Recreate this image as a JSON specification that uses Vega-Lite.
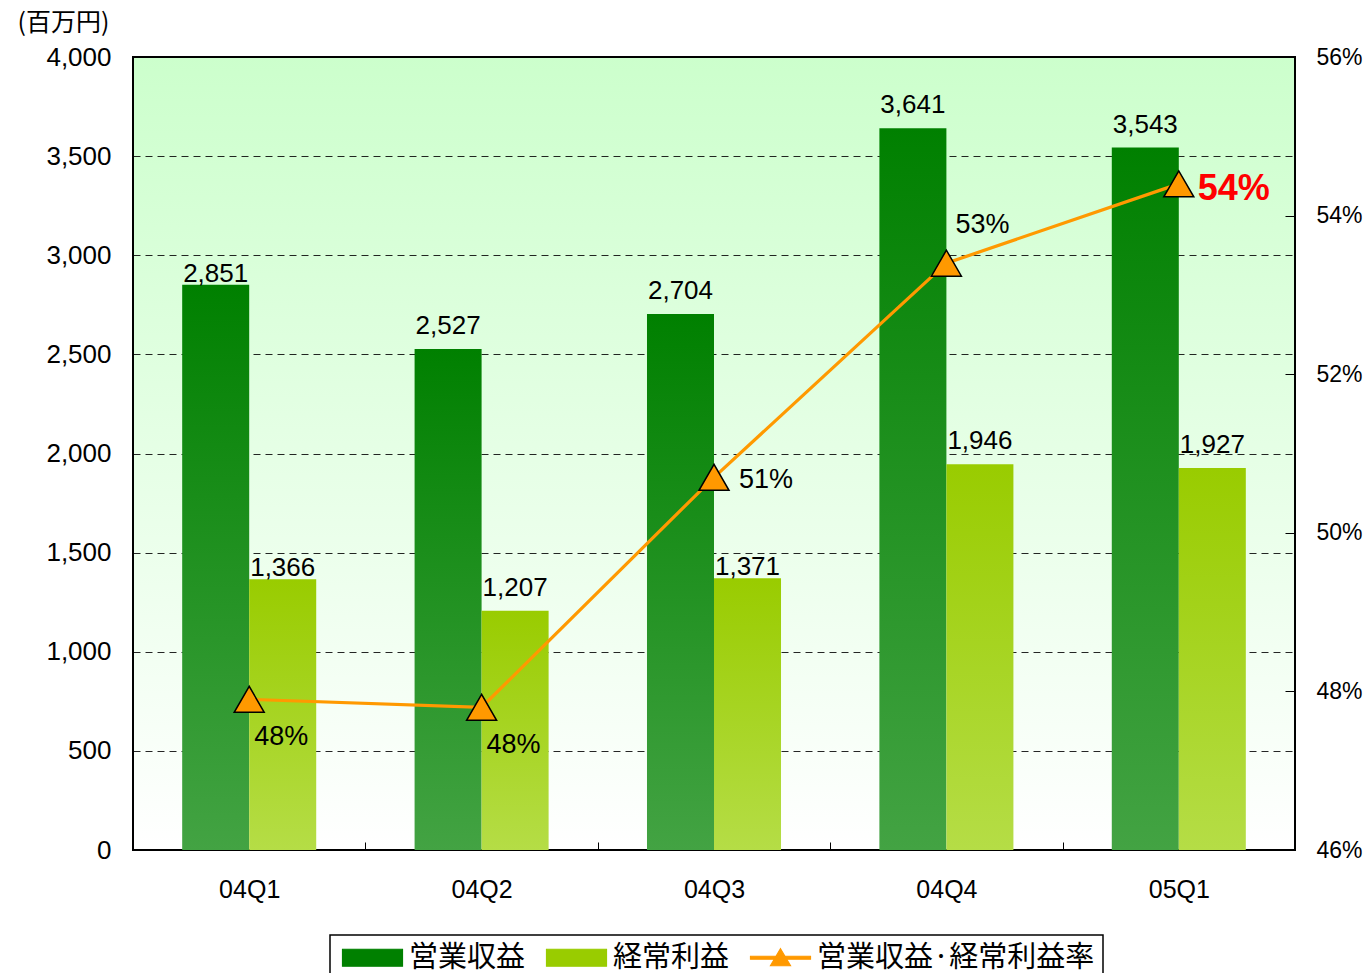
{
  "$schema": "https://vega.github.io/schema/vega-lite/v6.json",
  "width": 1162,
  "height": 793,
  "autosize": {"type": "none"},
  "padding": {"left": 133, "top": 57, "right": 73, "bottom": 123},
  "background": "white",
  "config": {
    "view": {
      "stroke": "black",
      "strokeWidth": 2,
      "fill": {"gradient": "linear", "x1": 0, "y1": 0, "x2": 0, "y2": 1,
        "stops": [{"offset": 0, "color": "#ccffcc"}, {"offset": 1, "color": "#ffffff"}]}
    },
    "font": "Liberation Sans",
    "axis": {"labelFont": "Liberation Sans", "labelFontSize": 26, "labelColor": "black", "domainColor": "black", "tickColor": "black"}
  },
  "datasets": {
    "bars": [
      {"q": "04Q1", "series": "営業収益", "value": 2851},
      {"q": "04Q1", "series": "経常利益", "value": 1366},
      {"q": "04Q2", "series": "営業収益", "value": 2527},
      {"q": "04Q2", "series": "経常利益", "value": 1207},
      {"q": "04Q3", "series": "営業収益", "value": 2704},
      {"q": "04Q3", "series": "経常利益", "value": 1371},
      {"q": "04Q4", "series": "営業収益", "value": 3641},
      {"q": "04Q4", "series": "経常利益", "value": 1946},
      {"q": "05Q1", "series": "営業収益", "value": 3543},
      {"q": "05Q1", "series": "経常利益", "value": 1927}
    ],
    "ratio": [
      {"q": "04Q1", "ratio": 0.479},
      {"q": "04Q2", "ratio": 0.478},
      {"q": "04Q3", "ratio": 0.507},
      {"q": "04Q4", "ratio": 0.534},
      {"q": "05Q1", "ratio": 0.544}
    ]
  },
  "encoding": {
    "x": {
      "field": "q", "type": "nominal", "title": null,
      "scale": {"paddingInner": 0, "paddingOuter": 0},
      "axis": {"orient": "bottom", "labelAngle": 0, "tickBand": "extent", "tickSize": -8, "labelPadding": 35, "domain": false, "labelFontSize": 25}
    }
  },
  "layer": [
    {
      "data": {"name": "bars"},
      "layer": [
        {
          "mark": {"type": "bar"},
          "encoding": {
            "xOffset": {"field": "series", "type": "nominal", "sort": ["営業収益", "経常利益"], "scale": {"paddingInner": 0, "paddingOuter": 0.734}},
            "y": {
              "field": "value", "type": "quantitative",
              "scale": {"domain": [0, 4000], "nice": false},
              "axis": {
                "orient": "left", "values": [0, 500, 1000, 1500, 2000, 2500, 3000, 3500, 4000],
                "labelExpr": "format(datum.value, ',')",
                "ticks": false, "labelPadding": 22, "domain": false,
                "grid": true, "gridColor": "black", "gridDash": [7, 5], "gridWidth": 1, "gridOpacity": 0.85,
                "title": "(百万円)", "titleAngle": 0, "titleX": -70, "titleY": -35, "titleAlign": "center", "titleBaseline": "middle",
                "titleFontSize": 25, "titleFontWeight": "normal", "titleFont": "Noto Sans CJK JP", "titleColor": "black"
              }
            },
            "fill": {
              "condition": {
                "test": "datum.series === '営業収益'",
                "value": {"gradient": "linear", "x1": 0, "y1": 0, "x2": 0, "y2": 1, "stops": [{"offset": 0, "color": "#008000"}, {"offset": 1, "color": "#43a343"}]}
              },
              "value": {"gradient": "linear", "x1": 0, "y1": 0, "x2": 0, "y2": 1, "stops": [{"offset": 0, "color": "#99cc00"}, {"offset": 1, "color": "#b5dd46"}]}
            }
          }
        },
        {
          "transform": [{"filter": "datum.q === '04Q1' || (datum.q === '04Q3' && datum.series === '経常利益')"}],
          "mark": {"type": "text", "baseline": "alphabetic", "dy": -3, "fontSize": 26, "font": "Liberation Sans", "color": "black"},
          "encoding": {
            "xOffset": {"field": "series", "type": "nominal", "sort": ["営業収益", "経常利益"]},
            "y": {"field": "value", "type": "quantitative"},
            "text": {"field": "value", "type": "quantitative", "format": ","}
          }
        },
        {
          "transform": [{"filter": "!(datum.q === '04Q1' || (datum.q === '04Q3' && datum.series === '経常利益'))"}],
          "mark": {"type": "text", "baseline": "alphabetic", "dy": -15, "fontSize": 26, "font": "Liberation Sans", "color": "black"},
          "encoding": {
            "xOffset": {"field": "series", "type": "nominal", "sort": ["営業収益", "経常利益"]},
            "y": {"field": "value", "type": "quantitative"},
            "text": {"field": "value", "type": "quantitative", "format": ","}
          }
        }
      ]
    },
    {
      "data": {"name": "ratio"},
      "layer": [
        {
          "mark": {"type": "line", "strokeWidth": 3.2},
          "encoding": {
            "y": {
              "field": "ratio", "type": "quantitative",
              "scale": {"domain": [0.46, 0.56], "nice": false, "zero": false},
              "axis": {"orient": "right", "values": [0.46, 0.48, 0.5, 0.52, 0.54, 0.56], "labelExpr": "format(datum.value, '.0%')", "grid": false, "tickSize": -10, "labelPadding": 31, "labelFontSize": 23, "domain": false, "title": null}
            },
            "color": {
              "datum": "営業収益·経常利益率", "type": "nominal",
              "scale": {"domain": ["営業収益", "経常利益", "営業収益·経常利益率"], "range": ["#008000", "#99cc00", "#ff9900"]},
              "legend": {
                "title": null, "orient": "none", "legendX": 197, "legendY": 878, "direction": "horizontal",
                "strokeColor": "black", "padding": 8,
                "labelFont": "Noto Sans CJK JP", "labelFontSize": 29, "labelColor": "black", "labelLimit": 500,
                "symbolSize": 400, "labelOffset": 42, "columnPadding": 16,
                "encode": {
                  "legend": {"update": {"strokeWidth": {"value": 1.5}}},
                  "symbols": {
                    "update": {
                      "shape": {"signal": "datum.value === '営業収益·経常利益率' ? 'M-1,-0.15H5V0.15H-1Z M2,-0.9L3,0.8H1Z' : 'M-1,-0.85H5V0.85H-1Z'"},
                      "fill": {"signal": "datum.value === '営業収益' ? {gradient: 'linear', x1: 0, y1: 0, x2: 0, y2: 1, stops: [{offset: 0, color: '#008000'}, {offset: 1, color: '#43a343'}]} : datum.value === '経常利益' ? {gradient: 'linear', x1: 0, y1: 0, x2: 0, y2: 1, stops: [{offset: 0, color: '#99cc00'}, {offset: 1, color: '#b5dd46'}]} : '#ff9900'"},
                      "stroke": {"signal": "datum.value === '営業収益·経常利益率' ? 'black' : 'transparent'"},
                      "strokeWidth": {"value": 1.2},
                      "opacity": {"value": 1},
                      "fillOpacity": {"value": 1}
                    }
                  }
                }
              }
            }
          }
        },
        {
          "mark": {"type": "point", "shape": "triangle-up", "filled": true, "size": 900, "stroke": "black", "strokeWidth": 1.5, "opacity": 1},
          "encoding": {
            "y": {"field": "ratio", "type": "quantitative"},
            "color": {"datum": "営業収益·経常利益率", "type": "nominal"}
          }
        },
        {
          "transform": [{"filter": {"field": "q", "oneOf": ["04Q1", "04Q2"]}}],
          "mark": {"type": "text", "align": "center", "baseline": "middle", "dx": 32, "dy": 38, "fontSize": 27, "color": "black"},
          "encoding": {"y": {"field": "ratio", "type": "quantitative"}, "text": {"field": "ratio", "type": "quantitative", "format": ".0%"}}
        },
        {
          "transform": [{"filter": {"field": "q", "equal": "04Q3"}}],
          "mark": {"type": "text", "align": "left", "baseline": "middle", "dx": 25, "dy": 3, "fontSize": 27, "color": "black"},
          "encoding": {"y": {"field": "ratio", "type": "quantitative"}, "text": {"field": "ratio", "type": "quantitative", "format": ".0%"}}
        },
        {
          "transform": [{"filter": {"field": "q", "equal": "04Q4"}}],
          "mark": {"type": "text", "align": "left", "baseline": "middle", "dx": 9, "dy": -38, "fontSize": 27, "color": "black"},
          "encoding": {"y": {"field": "ratio", "type": "quantitative"}, "text": {"field": "ratio", "type": "quantitative", "format": ".0%"}}
        },
        {
          "transform": [{"filter": {"field": "q", "equal": "05Q1"}}],
          "mark": {"type": "text", "align": "left", "baseline": "middle", "dx": 19, "dy": 5, "fontSize": 36, "fontWeight": "bold", "color": "#ff0000"},
          "encoding": {"y": {"field": "ratio", "type": "quantitative"}, "text": {"field": "ratio", "type": "quantitative", "format": ".0%"}}
        }
      ]
    }
  ],
  "resolve": {"scale": {"y": "independent"}}
}
